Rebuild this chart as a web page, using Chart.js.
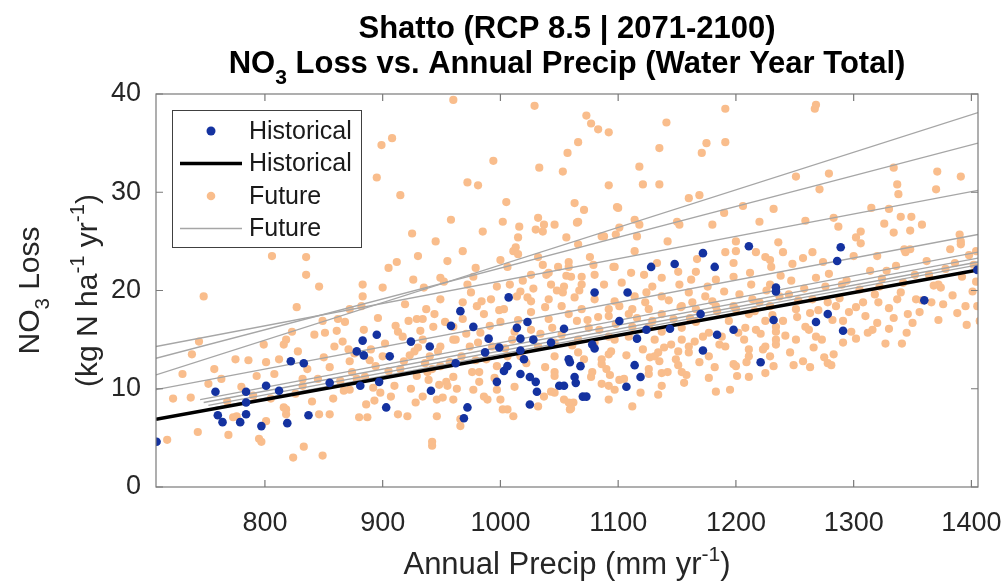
<!DOCTYPE html>
<html>
<head>
<meta charset="utf-8">
<script src="https://cdn.jsdelivr.net/npm/chart.js@4.4.0/dist/chart.umd.min.js"></script>
<style>
  html, body { margin: 0; padding: 0; background: #fff; }
  #wrap { width: 1007px; height: 587px; }
</style>
</head>
<body>
<div id="wrap"><canvas id="graph1" width="1007" height="587"></canvas></div>
<script>
// axis limits + ticks
const xMin = 707.5, xMax = 1405.6;
const xTicks = [800, 900, 1000, 1100, 1200, 1300, 1400];
const yTicks = [0, 10, 20, 30, 40];

// historical scatter [precip, NO3 loss]
const histPts = [
  [708,4.6],[758,9.7],[760,7.3],[764,6.6],[779,6.6],[784,9.7],[784,8.6],[784,7.4],[797,6.2],[801,10.3],
  [812,9.8],[819,6.5],[822,12.8],[833,12.6],[837,7.3],[855,10.6],[878,13.8],[883,14.9],[884,13.4],[881,10.3],
  [895,15.5],[897,10.7],[903,8.1],[906,13.3],[924,14.8],[940,14.3],[941,9.8],[958,16.4],[962,12.6],[966,17.9],
  [977,16.3],[972,8.1],[969,7.0],[990,15.1],[987,13.7],[997,10.7],[999,14.2],[1003,11.8],[1006,12.3],[1007,19.3],
  [1014,16.2],[1017,15.1],[1017,13.9],[1020,13.0],[1023,16.8],[1028,15.0],[1017,11.5],[1025,11.2],[1030,10.7],[1031,9.7],
  [1025,8.4],[1043,14.7],[1050,10.3],[1054,10.3],[1054,16.1],[1058,13.0],[1080,19.8],[1108,19.8],[1078,14.5],[1080,14.1],
  [1059,12.7],[1068,12.3],[1063,11.2],[1064,10.6],[1070,9.2],[1073,9.2],[1101,16.9],[1116,15.1],[1124,16.0],[1114,12.4],
  [1119,11.2],[1107,10.2],[1144,16.1],[1170,17.6],[1184,15.5],[1198,16.0],[1172,13.9],[1221,12.7],[1232,17.0],[1234,19.9],
  [1234,20.3],[1268,16.8],[1278,17.6],[1291,15.9],[1360,19.0],[1211,24.5],[1289,24.4],[1286,23.0],[1172,23.8],[1128,22.4],
  [1148,22.7],[1182,22.4],[1405,22.1]
];

// future scatter [precip, NO3 loss]
const futPts = [
  [1073,37.8],[1077,37.0],[1083,36.4],[1092,36.1],[1141,37.1],[1191,38.5],[1267,38.5],[1268,38.9],[1066,35.1],[1057,34.0],
  [1053,32.1],[1135,34.5],[1175,35.0],[1171,34.0],[1191,35.1],[1118,32.6],[1092,30.7],[1121,30.8],[1135,30.8],[1063,28.9],
  [1071,28.2],[1100,28.4],[1160,29.4],[1169,29.7],[1206,28.6],[1232,28.3],[1251,31.6],[1279,31.9],[1271,30.3],[1334,32.5],
  [1337,30.8],[1338,29.8],[1371,32.1],[1370,30.3],[1391,31.6],[1066,27.0],[1118,26.7],[1150,27.0],[1180,26.7],[1190,27.9],
  [1220,27.0],[1259,27.1],[1283,27.4],[1287,26.5],[1315,28.4],[1330,28.3],[1326,26.8],[1340,27.5],[1349,27.5],[1358,26.7],
  [1348,26.1],[1306,26.0],[1302,25.4],[1306,24.8],[1320,23.5],[1343,24.2],[1348,24.2],[1382,24.2],[1391,25.0],[1390,25.7],
  [1404,24.0],[1056,25.4],[1086,25.5],[1098,25.7],[1116,25.5],[1114,24.0],[1076,23.4],[1097,22.4],[1122,21.6],[1137,21.3],
  [1151,21.9],[1162,21.1],[1191,23.9],[1200,24.0],[1225,23.4],[1230,22.4],[1240,23.9],[1248,22.7],[1265,23.9],[1274,22.9],
  [1401,19.9],[1374,20.3],[1060,21.4],[1054,20.4],[1069,20.6],[1334,25.9],[1391,24.7],[1344,23.9],[1372,20.6],
  [1388,17.7],[1396,16.5],[1405,18.4],[1327,14.6],[1345,15.7],[1350,16.7],[1320,16.7],[1330,16.1],[1366,18.8],[1353,19.1],
  [1337,19.1],[1321,18.8],[1302,18.3],[1291,16.9],[1291,14.7],[1283,13.5],[1281,12.4],[1275,13.2],[1266,14.2],[1268,15.3],
  [1257,12.8],[1259,16.3],[1251,15.0],[1246,13.7],[1234,14.5],[1229,13.3],[1223,14.0],[1234,15.8],[1211,14.0],[1209,12.7],
  [1201,11.3],[1198,12.5],[1191,14.3],[1182,12.2],[1195,9.9],[1183,9.7],[1177,13.3],[1169,12.7],[1160,13.7],[1165,14.8],
  [1151,13.8],[1145,14.5],[1142,11.7],[1135,12.8],[1134,9.4],[1134,13.7],[1127,13.2],[1131,15.0],[1126,11.5],[1121,14.0],
  [1112,8.2],[1097,9.9],[1092,8.9],[1086,10.5],[1086,12.5],[1092,13.5],[1097,15.0],[1090,12.0],[1077,11.2],[1059,7.9],
  [1054,8.9],[1062,8.6],[1163,18.8],[1153,18.3],[1137,19.4],[1123,18.8],[1112,18.1],[1101,18.4],[1092,17.4],[1069,18.1],
  [1065,16.9],[1184,17.9],[1200,18.1],[1211,17.6],[1220,18.8],[1251,18.1],[1265,19.1],[1278,18.8],[1225,16.9],[1240,16.9],
  [1166,16.8],[1154,16.2],[1208,16.2],[1060,8.0],[1101,10.9],[1137,11.6],[1151,12.4],[1158,11.4],[1177,11.1],[1211,11.2],
  [1225,11.6],[1249,12.4],[1263,12.2],[1278,12.6],[1302,15.1],[1312,15.7],[1341,14.6],
  [748,19.4],[738,13.5],[744,14.8],[737,9.1],[717,4.8],[743,5.6],[769,5.3],[768,8.7],[786,12.9],[799,14.5],
  [801,12.7],[793,11.3],[795,4.9],[797,4.6],[801,6.7],[816,8.1],[818,7.4],[816,14.5],[818,15.0],[823,15.8],
  [827,18.3],[828,13.8],[832,10.3],[824,3.0],[833,4.1],[849,3.2],[846,7.4],[855,7.4],[842,15.5],[851,15.7],
  [849,16.9],[862,17.1],[868,16.8],[872,18.1],[859,14.3],[872,12.8],[874,11.7],[872,9.9],[883,19.4],[882,18.4],
  [880,7.1],[887,7.1],[886,8.4],[894,12.3],[900,13.3],[898,9.6],[913,7.4],[921,7.2],[913,15.8],[917,15.3],
  [922,16.9],[927,13.8],[929,17.1],[929,11.3],[942,12.0],[934,9.2],[946,7.2],[942,4.2],[942,4.6],[966,6.2],
  [954,10.7],[962,15.0],[960,11.2],[951,9.1],[981,14.7],[976,11.7],[982,10.7],[986,9.2],[997,9.9],[1002,7.9],
  [1000,8.9],[1011,7.2],[1032,8.2],[1037,9.2],[1046,9.6],[1046,11.7],[832,11.0],[773,7.1],[776,7.2],[818,7.9],
  [960,39.4],[1029,38.8],[899,34.8],[908,35.5],[895,31.5],[915,29.7],[994,33.2],[1033,32.5],[972,31.0],[981,30.7],
  [1005,29.0],[945,25.0],[1002,27.0],[1016,26.5],[1032,27.4],[1037,26.7],[1046,26.7],[1036,26.0],[1015,25.4],[1013,24.4],
  [1011,24.0],[1015,23.7],[1000,23.1],[1006,22.4],[1032,23.4],[1036,22.6],[1041,21.8],[1026,21.6],[1058,22.4],[1043,20.6],
  [1053,19.8],[1017,19.9],[1023,19.3],[979,22.3],[977,21.4],[949,21.3],[952,20.9],[912,22.9],[905,22.3],[926,21.1],
  [935,20.3],[900,20.3],[883,20.6],[846,20.4],[835,23.4],[835,21.6],[806,23.5],
  [1030,26.2],[1065,26.9],[1099,28.5],[972,20.6],[997,20.4],[1039,21.6],[1049,22.4],[1058,22.9],[1069,21.4],[1080,21.6],
  [1096,22.4],[1066,24.7],[1088,25.5],[1101,26.4],[1114,27.2],[1142,25.0],[1152,26.7],[1200,25.0],[1217,23.9],[1229,23.1],
  [1236,24.9],[1166,21.9],[1183,21.1],[1198,21.4],[1213,20.6],[1229,20.6],[1160,19.8],[1174,19.4],[1129,20.4],[1114,19.4],
  [1097,18.9],[1080,19.1],[1063,19.3],[1052,18.4],[1041,19.1],[1026,18.9],[1014,19.4],[1003,18.1],[992,19.1],[980,18.4],
  [968,18.8],[949,19.1],[937,18.1],[934,17.1],[943,16.3],[968,17.1],[986,17.6],[1000,16.8],[1026,17.8],[1041,17.1],
  [1058,17.6],[1083,17.3],[1092,18.1],[1109,17.6],[1126,18.1],[1137,17.6],[1154,18.4],[1166,18.1],[1183,18.4],[1198,18.4],
  [1214,19.1],[1229,18.4],[1237,19.4],
  [938,11.7],[949,12.3],[955,10.3],[946,8.9],[960,8.9],[977,9.9],[989,8.9],[1006,7.9],[982,11.7],[997,12.3],
  [966,6.9],[1038,12.2],[1046,11.3],[1043,9.7],[1058,8.6],[1078,11.7],[1086,13.0],[1094,13.8],[1092,10.3],[1105,11.0],
  [1126,12.0],[1131,13.3],[1137,10.3],[1149,13.0],[1154,11.7],[1160,14.3],[1200,12.3],[1211,13.3],[1225,14.3],[1234,15.0],
  [1232,12.3],[1177,15.7],[1188,15.3],[1202,15.7],[1217,16.0],[1234,16.3],[1154,15.0],[1109,15.3],[1092,15.3],[1080,14.7],
  [1066,15.0],[1046,14.7],[1032,14.3],[1010,15.0],[993,14.3],[974,14.3],[960,15.0],[949,14.3],[934,15.0],[940,13.3],
  [1006,13.3],[1017,13.3],[1046,13.3],[1066,13.7],[1075,16.2],[1112,16.3],[1126,16.3],[1137,15.8],[1026,16.0],[1012,15.8],
  [983,15.7],[960,16.3],
  [1245,19.6],[1252,17.3],[1258,20.2],[1262,16.0],[1270,18.0],[1276,20.4],[1282,17.0],[1288,19.2],[1294,21.0],[1298,15.8],
  [1305,20.1],[1310,17.4],[1314,22.0],[1318,19.6],[1324,21.2],[1330,18.2],[1336,22.5],[1342,20.8],[1346,17.6],[1352,21.6],
  [1358,19.0],[1362,23.0],[1368,20.5],[1372,17.0],[1378,22.2],[1384,19.5],[1392,21.4],[1398,23.6],[1404,20.9],[1407,16.9],
  [722,9.0],[730,11.5],[752,10.5],[757,12.0],[763,11.0],[775,13.0],[780,10.2],[790,9.3],[805,9.0],[808,11.5],
  [812,13.0],[826,9.5],[836,12.0],[840,8.7],[845,11.0],[850,13.2],[858,9.0],[864,10.8],[866,14.8],[876,13.6],
  [885,11.2],[890,14.0],[893,8.8],[905,11.8],[910,10.3],[918,12.8],[924,10.0],[930,14.2],[936,12.6],[948,10.4],
  [925,25.8],[958,27.2],[985,26.0],[968,24.0],[930,23.5],[955,23.0],
  [855,12.2],[861,15.9],[867,9.8],[871,14.0],[878,11.0],[884,16.0],[889,12.9],[892,10.1],[896,17.2],[902,14.6],
  [907,9.2],[911,16.4],[915,12.0],[919,18.6],[923,13.4],[928,8.6],[932,15.9],[939,10.9],[944,17.6],[947,13.8],
  [953,16.8],[957,12.7],[963,10.0],[967,13.3],[971,15.6],[975,19.8],[979,12.9],[984,18.9],[988,13.0],[991,16.4],
  [995,11.1],[999,18.0],[1004,14.1],[1008,20.6],[1012,10.2],[1015,17.0],[1019,21.0],[1022,12.6],[1028,20.2],[1034,15.6],
  [1038,18.3],[1044,16.2],[1048,20.0],[1052,15.5],[1056,21.5],[1061,14.4],[1067,20.0],[1071,13.0],[1074,17.0],[1079,22.6],
  [1084,16.0],[1088,20.6],[1093,11.4],[1098,16.6],[1103,20.8],[1107,13.4],[1111,21.8],[1116,17.2],[1119,9.6],[1124,19.8],
  [1129,16.9],[1133,22.8],[1139,14.2],[1143,19.0],[1147,17.1],[1152,20.6],[1156,10.6],[1161,17.2],[1167,23.2],[1172,15.3],
  [1176,20.4],[1180,18.9],[1186,14.5],[1190,19.9],[1194,16.9],[1198,22.8],[1203,19.6],[1207,15.0],[1212,21.8],[1216,17.9],
  [1221,15.6],[1226,20.0],[1231,17.5],[1238,21.5],[1242,15.4],[1247,21.0],[1253,19.0],[1257,23.3],[1263,17.7],[1268,21.3],
  [1273,15.0],[1279,21.7],[1285,18.4],[1290,20.6],[1296,17.8],[1300,23.5],[1308,18.8],[1316,16.0],[1322,20.4],[1328,22.0],
  [1334,17.2],[1340,19.8],[1356,17.8],[1364,21.6],[1376,18.6],[1386,22.8],[1395,18.4],[1402,22.6]
];

// regression lines
const histFitX = [707.5, 1405.6];
const histFitY = [6.9, 22.1];
const futFitX0 = [707.5, 707.5, 707.5, 707.5, 745, 748, 752, 758];
const futFitY0 = [11.4, 13.1, 14.3, 9.9, 8.9, 8.6, 8.3, 8.1];
const futFitX1 = [1405.6, 1405.6, 1405.6, 1405.6, 1405.6, 1405.6, 1405.6, 1405.6];
const futFitY1 = [38.1, 35.0, 30.2, 25.7, 23.9, 23.3, 22.9, 22.6];

const BLUE = '#1432a0';
const ORANGE = '#f9bd8c';
const GRAY = '#a6a6a6';
const FAM = '"Liberation Sans", Arial, Helvetica, sans-serif';

// text with sub/superscript pieces: [text, shift]  shift -1 = sub, 1 = sup
function richText(ctx, parts, x, y, size, weight) {
  const fontOf = s => weight + ' ' + s + 'px ' + FAM;
  let w = 0;
  parts.forEach(p => {
    ctx.font = fontOf(p[1] ? size * 0.68 : size);
    w += ctx.measureText(p[0]).width;
  });
  let cx = x - w / 2;
  ctx.textAlign = 'left';
  ctx.textBaseline = 'alphabetic';
  parts.forEach(p => {
    const s = p[1] ? size * 0.68 : size;
    ctx.font = fontOf(s);
    const dy = p[1] < 0 ? size * 0.34 : (p[1] > 0 ? -size * 0.42 : 0);
    ctx.fillText(p[0], cx, y + dy);
    cx += ctx.measureText(p[0]).width;
  });
}

const decorPlugin = {
  id: 'decor',
  afterDraw(chart) {
    const ctx = chart.ctx;
    const ca = chart.chartArea;
    const xs = chart.scales.x, ys = chart.scales.y;
    ctx.save();

    // axes box + inward ticks
    ctx.strokeStyle = '#7a7a7a';
    ctx.lineWidth = 1.2;
    ctx.strokeRect(ca.left, ca.top, ca.right - ca.left, ca.bottom - ca.top);
    ctx.beginPath();
    xTicks.forEach(v => {
      const px = xs.getPixelForValue(v);
      ctx.moveTo(px, ca.bottom); ctx.lineTo(px, ca.bottom - 7);
      ctx.moveTo(px, ca.top); ctx.lineTo(px, ca.top + 7);
    });
    yTicks.forEach(v => {
      const py = ys.getPixelForValue(v);
      ctx.moveTo(ca.left, py); ctx.lineTo(ca.left + 7, py);
      ctx.moveTo(ca.right, py); ctx.lineTo(ca.right - 7, py);
    });
    ctx.stroke();

    // legend box
    const lx = ca.left + 16, ly = ca.top + 16, lw = 189, lh = 137;
    ctx.fillStyle = '#fff';
    ctx.fillRect(lx, ly, lw, lh);
    ctx.strokeStyle = '#404040';
    ctx.lineWidth = 1;
    ctx.strokeRect(lx + 0.5, ly + 0.5, lw, lh);
    const rows = [
      { label: 'Historical', kind: 'dot', color: BLUE, r: 4.5 },
      { label: 'Historical', kind: 'line', color: '#000', w: 3.5 },
      { label: 'Future', kind: 'dot', color: ORANGE, r: 4.3 },
      { label: 'Future', kind: 'line', color: GRAY, w: 1.3 }
    ];
    rows.forEach((r, i) => {
      const cy = ly + 21 + i * 32.5;
      if (r.kind === 'dot') {
        ctx.fillStyle = r.color;
        ctx.beginPath(); ctx.arc(lx + 39, cy, r.r, 0, Math.PI * 2); ctx.fill();
      } else {
        ctx.strokeStyle = r.color; ctx.lineWidth = r.w;
        ctx.beginPath(); ctx.moveTo(lx + 8, cy); ctx.lineTo(lx + 70, cy); ctx.stroke();
      }
      ctx.fillStyle = '#1a1a1a';
      ctx.font = '25px ' + FAM;
      ctx.textAlign = 'left';
      ctx.textBaseline = 'middle';
      ctx.fillText(r.label, lx + 77, cy + 1);
    });

    // titles
    const cx = (ca.left + ca.right) / 2;
    ctx.fillStyle = '#000';
    richText(ctx, [['Shatto (RCP 8.5 | 2071-2100)', 0]], cx, 38, 31, 'bold');
    richText(ctx, [['NO', 0], ['3', -1], [' Loss vs. Annual Precip (Water Year Total)', 0]], cx, 73, 31, 'bold');

    ctx.fillStyle = '#262626';
    richText(ctx, [['Annual Precip (mm yr', 0], ['-1', 1], [')', 0]], cx, 574, 31, 'normal');

    const cy = (ca.top + ca.bottom) / 2;
    ctx.save();
    ctx.translate(39, cy);
    ctx.rotate(-Math.PI / 2);
    richText(ctx, [['NO', 0], ['3', -1], [' Loss', 0]], 0, 0, 30, 'normal');
    ctx.restore();
    ctx.save();
    ctx.translate(97, cy);
    ctx.rotate(-Math.PI / 2);
    richText(ctx, [['(kg N ha', 0], ['-1', 1], [' yr', 0], ['-1', 1], [')', 0]], 0, 0, 30, 'normal');
    ctx.restore();

    ctx.restore();
  }
};

const datasets = [
  {
    label: 'Historical',
    data: histPts.map(p => ({ x: p[0], y: p[1] })),
    backgroundColor: BLUE,
    pointRadius: 4.3,
    pointBorderWidth: 0,
    showLine: false
  },
  {
    label: 'Historical fit',
    data: histFitX.map((x, i) => ({ x: x, y: histFitY[i] })),
    borderColor: '#000',
    borderWidth: 3.5,
    pointRadius: 0,
    showLine: true
  }
];
futFitX0.forEach((x0, i) => {
  datasets.push({
    label: 'Future fit ' + (i + 1),
    data: [{ x: x0, y: futFitY0[i] }, { x: futFitX1[i], y: futFitY1[i] }],
    borderColor: GRAY,
    borderWidth: 1.3,
    pointRadius: 0,
    showLine: true
  });
});
datasets.push({
  label: 'Future',
  data: futPts.map(p => ({ x: p[0], y: p[1] })),
  backgroundColor: ORANGE,
  pointRadius: 4.1,
  pointBorderWidth: 0,
  showLine: false
});

const tickFont = { family: FAM, size: 27 };

new Chart(document.getElementById('graph1').getContext('2d'), {
  type: 'scatter',
  data: { datasets: datasets },
  options: {
    responsive: false,
    animation: false,
    layout: { padding: { top: 94, right: 29, left: 0, bottom: 0 } },
    plugins: {
      legend: { display: false },
      tooltip: { enabled: false },
      title: { display: false }
    },
    scales: {
      x: {
        type: 'linear',
        min: xMin,
        max: xMax,
        grid: { display: false },
        border: { display: false },
        afterBuildTicks: s => { s.ticks = xTicks.map(v => ({ value: v })); },
        afterFit: s => { s.height = 100; s.paddingLeft = 0; s.paddingRight = 0; },
        ticks: { font: tickFont, color: '#262626', padding: 12, maxRotation: 0, autoSkip: false,
                 callback: v => String(v) }
      },
      y: {
        min: 0,
        max: 40,
        grid: { display: false },
        border: { display: false },
        afterBuildTicks: s => { s.ticks = yTicks.map(v => ({ value: v })); },
        afterFit: s => { s.width = 156; s.paddingTop = 0; s.paddingBottom = 0; },
        ticks: { font: tickFont, color: '#262626', padding: 7, callback: v => String(v) }
      }
    }
  },
  plugins: [decorPlugin]
});
</script>
</body>
</html>
